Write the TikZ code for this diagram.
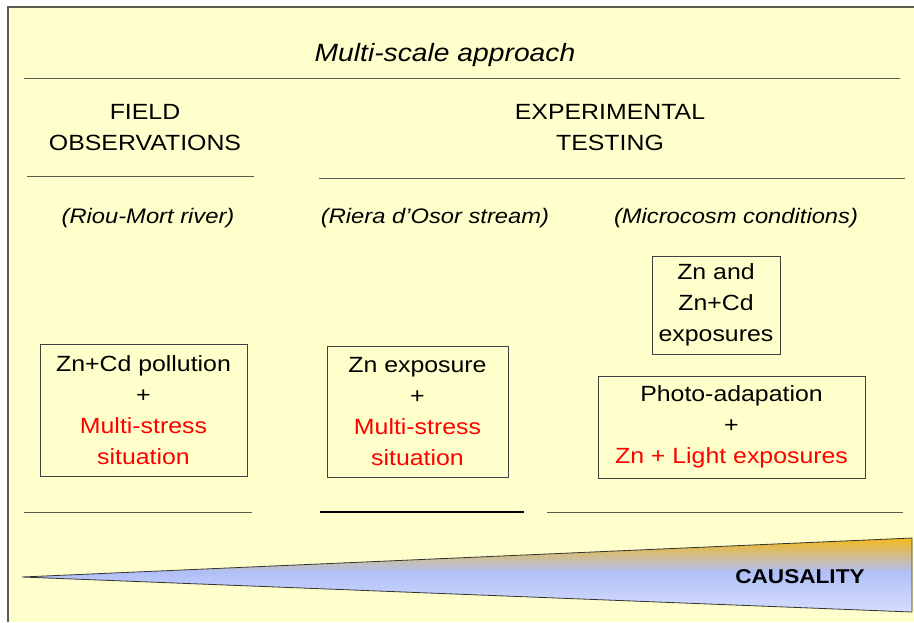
\documentclass[tikz,border=0pt]{standalone}
\usepackage{fontspec}
\setmainfont[FakeStretch=1.13]{Liberation Sans}
\usetikzlibrary{positioning}
\definecolor{paper}{HTML}{FFFFCC}
\definecolor{amber}{HTML}{F5B81C}
\definecolor{tan}{HTML}{CDBE96}
\definecolor{skyblue}{HTML}{B0BFF7}
\definecolor{paleblue}{HTML}{D6DEFF}
\definecolor{rulegray}{HTML}{5C5C50}
\pgfdeclareverticalshading{wedge}{100bp}{color(0bp)=(paleblue); color(25bp)=(paleblue);
  color(52bp)=(skyblue); color(62bp)=(tan); color(75bp)=(amber); color(100bp)=(amber)}

\begin{document}
\begin{tikzpicture}[x=1pt, y=-1pt,
                    every node/.style={align=center, inner sep=0pt, font=\fontsize{22}{31}\selectfont},
                    heading/.style={font=\fontsize{22}{31}\selectfont},
                    place/.style={font=\fontsize{21}{24}\selectfont\itshape},
                    casebox/.style={draw=black!75, fill=paper, line width=0.8pt},
                    rule/.style={draw=rulegray, line width=1pt}]

  \useasboundingbox (0,0) rectangle (914,622);
  \fill[paper] (8,7) rectangle (914,622);
  \draw[rulegray, line width=1.5pt] (8,622) -- (8,7) -- (914,7);

  % titles
  \node[font=\fontsize{25}{28}\selectfont\itshape] (title) at (445,55) {Multi-scale approach};
  \node[heading] (field) at (145,128) {FIELD\\OBSERVATIONS};
  \node[heading] (exper) at (610,128) {EXPERIMENTAL\\TESTING};

  \draw[rule] (24,78) -- (900,78);
  \draw[rule] (27,176) -- (254,176);
  \draw[rule] (319,178) -- (905,178);

  % sites
  \node[place] (riou)  at (148,218) {(Riou-Mort river)};
  \node[place] (riera) at (435,218) {(Riera d'Osor stream)};
  \node[place] (micro) at (736,218) {(Microcosm conditions)};

  % boxes
  \node[casebox, minimum width=207pt, minimum height=132pt] (pollution) at (143.5,410)
       {Zn+Cd pollution\\+\\\textcolor{red}{Multi-stress}\\\textcolor{red}{situation}};
  \node[casebox, minimum width=181pt, minimum height=131pt] (exposure) at (417.5,411.5)
       {Zn exposure\\+\\\textcolor{red}{Multi-stress}\\\textcolor{red}{situation}};
  \node[casebox, minimum width=128pt, minimum height=98pt] (metals) at (716,305)
       {Zn and\\Zn+Cd\\exposures};
  \node[casebox, minimum width=267pt, minimum height=102pt] (photo) at (731.5,427)
       {Photo-adapation\\+\\\textcolor{red}{Zn + Light exposures}};

  \draw[rule] (24,512) -- (252,512);
  \draw[black, line width=1.8pt] (320,512) -- (524,512);
  \draw[rule] (547,512) -- (903,512);

  % causality wedge
  \shade[shading=wedge, draw=black!80, line width=0.8pt]
        (22,577) -- (912,538) -- (912,612) -- cycle;
  \node[font=\fontsize{20}{22}\selectfont\bfseries] (causality) at (800,577) {CAUSALITY};

\end{tikzpicture}
\end{document}
